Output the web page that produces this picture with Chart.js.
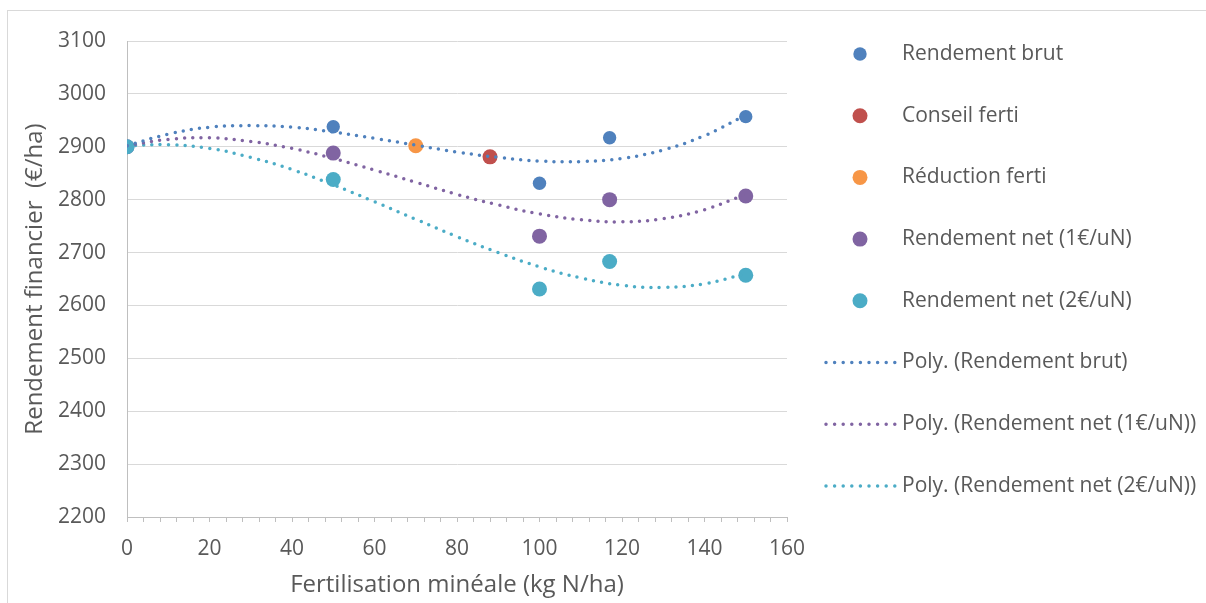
<!DOCTYPE html>
<html>
<head>
<meta charset="utf-8">
<script src="https://cdn.jsdelivr.net/npm/chart.js@4.4.1/dist/chart.umd.min.js"></script>
<style>
  html, body { margin: 0; padding: 0; background: #fff; overflow: hidden; }
  #frame { position: absolute; left: 7px; top: 10px; width: 1400px; height: 800px; border: 1.5px solid #d9d9d9; }
  #wrap { position: absolute; left: 0; top: 0; width: 1206px; height: 603px; }
</style>
</head>
<body>
<div id="frame"></div>
<div id="wrap"><canvas id="rendementChart"></canvas></div>
<script>
// doses d'azote (kg N/ha) et rendements financiers (€/ha)
const doses = [0, 50, 100, 117, 150];
const rendementBrut = [2900, 2938, 2831, 2917, 2957];
const rendementNet1 = [2900, 2888, 2731, 2800, 2807];
const rendementNet2 = [2900, 2838, 2631, 2683, 2657];
const conseilDose = [88];
const conseilValue = [2881];
const reductionDose = [70];
const reductionValue = [2902];

// courbes de tendance polynomiales
const trendDoses = [0, 10, 20, 30, 40, 50, 60, 70, 80, 90, 100, 110, 120, 130, 140, 150];
const trendBrut = [2902, 2924, 2937, 2940, 2937, 2928, 2916, 2903, 2890, 2880, 2873, 2872, 2878, 2894, 2921, 2960];
const trendNet1 = [2902, 2914, 2917, 2910, 2897, 2878, 2856, 2833, 2810, 2790, 2773, 2762, 2758, 2764, 2781, 2810];
const trendNet2 = [2902, 2904, 2897, 2880, 2857, 2828, 2796, 2763, 2730, 2700, 2673, 2652, 2638, 2634, 2641, 2660];

const xTicks = [0, 20, 40, 60, 80, 100, 120, 140, 160];

const toPoints = (xs, ys) => xs.map((x, i) => ({ x: x, y: ys[i] }));

const textColor = '#595959';
Chart.defaults.font.family = '"Open Sans", sans-serif';
Chart.defaults.color = textColor;

// légende à droite, dessinée à la main
const sideLegend = {
    id: 'sideLegend',
    afterDraw(chart) {
        const ctx = chart.ctx;
        ctx.save();
        ctx.font = '21px "Open Sans"';
        ctx.textBaseline = 'middle';
        chart.data.datasets.forEach((ds, i) => {
            const y = 54 + i * 61.7;
            if (ds.showLine) {
                ctx.strokeStyle = ds.borderColor;
                ctx.lineWidth = ds.borderWidth;
                ctx.lineCap = 'round';
                ctx.setLineDash([0, 8.6]);
                ctx.beginPath();
                ctx.moveTo(826, y);
                ctx.lineTo(895, y);
                ctx.stroke();
                ctx.setLineDash([]);
            } else {
                ctx.fillStyle = ds.backgroundColor;
                ctx.beginPath();
                ctx.arc(860, y, ds.pointRadius, 0, Math.PI * 2);
                ctx.fill();
            }
            ctx.fillStyle = textColor;
            ctx.fillText(ds.label, 902, y);
        });
        ctx.restore();
    }
};

function pointSet(label, data, color, radius, order) {
    return {
        label: label,
        data: data,
        backgroundColor: color,
        borderColor: color,
        borderWidth: 0,
        pointRadius: radius,
        pointHoverRadius: radius,
        showLine: false,
        order: order
    };
}

function trendSet(label, data, color) {
    return {
        label: label,
        data: data,
        borderColor: color,
        backgroundColor: color,
        borderWidth: 3.5,
        borderDash: [0, 8.3],
        borderCapStyle: 'round',
        pointRadius: 0,
        showLine: true,
        tension: 0.4,
        fill: false,
        order: 0
    };
}

const ctx = document.getElementById('rendementChart').getContext('2d');
const rendementChart = new Chart(ctx, {
    type: 'scatter',
    data: {
        datasets: [
            pointSet('Rendement brut', toPoints(doses, rendementBrut), '#4f81bd', 6.7, 5),
            pointSet('Conseil ferti', toPoints(conseilDose, conseilValue), '#c0504d', 7.5, 4),
            pointSet('Réduction ferti', toPoints(reductionDose, reductionValue), '#f79646', 7.5, 3),
            pointSet('Rendement net (1€/uN)', toPoints(doses, rendementNet1), '#8064a2', 7.5, 2),
            pointSet('Rendement net (2€/uN)', toPoints(doses, rendementNet2), '#4bacc6', 7.5, 1),
            trendSet('Poly. (Rendement brut)', toPoints(trendDoses, trendBrut), '#4f81bd'),
            trendSet('Poly. (Rendement net (1€/uN))', toPoints(trendDoses, trendNet1), '#8064a2'),
            trendSet('Poly. (Rendement net (2€/uN))', toPoints(trendDoses, trendNet2), '#4bacc6')
        ]
    },
    options: {
        responsive: true,
        maintainAspectRatio: false,
        animation: false,
        layout: {
            padding: { left: 0, top: 41, right: 419, bottom: 0 }
        },
        plugins: {
            legend: { display: false },
            tooltip: { enabled: false }
        },
        scales: {
            x: {
                type: 'linear',
                min: 0,
                max: 160,
                afterFit: (scale) => { scale.height = 86; },
                ticks: {
                    stepSize: 4,
                    autoSkip: false,
                    maxRotation: 0,
                    padding: 14,
                    font: { size: 21 },
                    callback: (v) => xTicks.includes(v) ? String(v) : ''
                },
                grid: {
                    drawOnChartArea: false,
                    drawTicks: true,
                    tickLength: 5,
                    color: '#bfbfbf'
                },
                border: { color: '#bfbfbf', width: 1 },
                title: {
                    display: true,
                    text: 'Fertilisation minéale (kg N/ha)',
                    font: { size: 24 },
                    padding: { top: 0, bottom: 3 }
                }
            },
            y: {
                min: 2200,
                max: 3100,
                afterFit: (scale) => { scale.width = 127; },
                ticks: {
                    stepSize: 100,
                    padding: 21,
                    font: { size: 21 },
                    callback: (v) => String(v)
                },
                grid: {
                    color: '#d9d9d9',
                    drawTicks: false
                },
                border: { color: '#bfbfbf', width: 1 },
                title: {
                    display: true,
                    text: 'Rendement financier  (€/ha)',
                    font: { size: 24 },
                    padding: { top: 21, bottom: 0 }
                }
            }
        }
    },
    plugins: [sideLegend]
});
</script>
</body>
</html>
